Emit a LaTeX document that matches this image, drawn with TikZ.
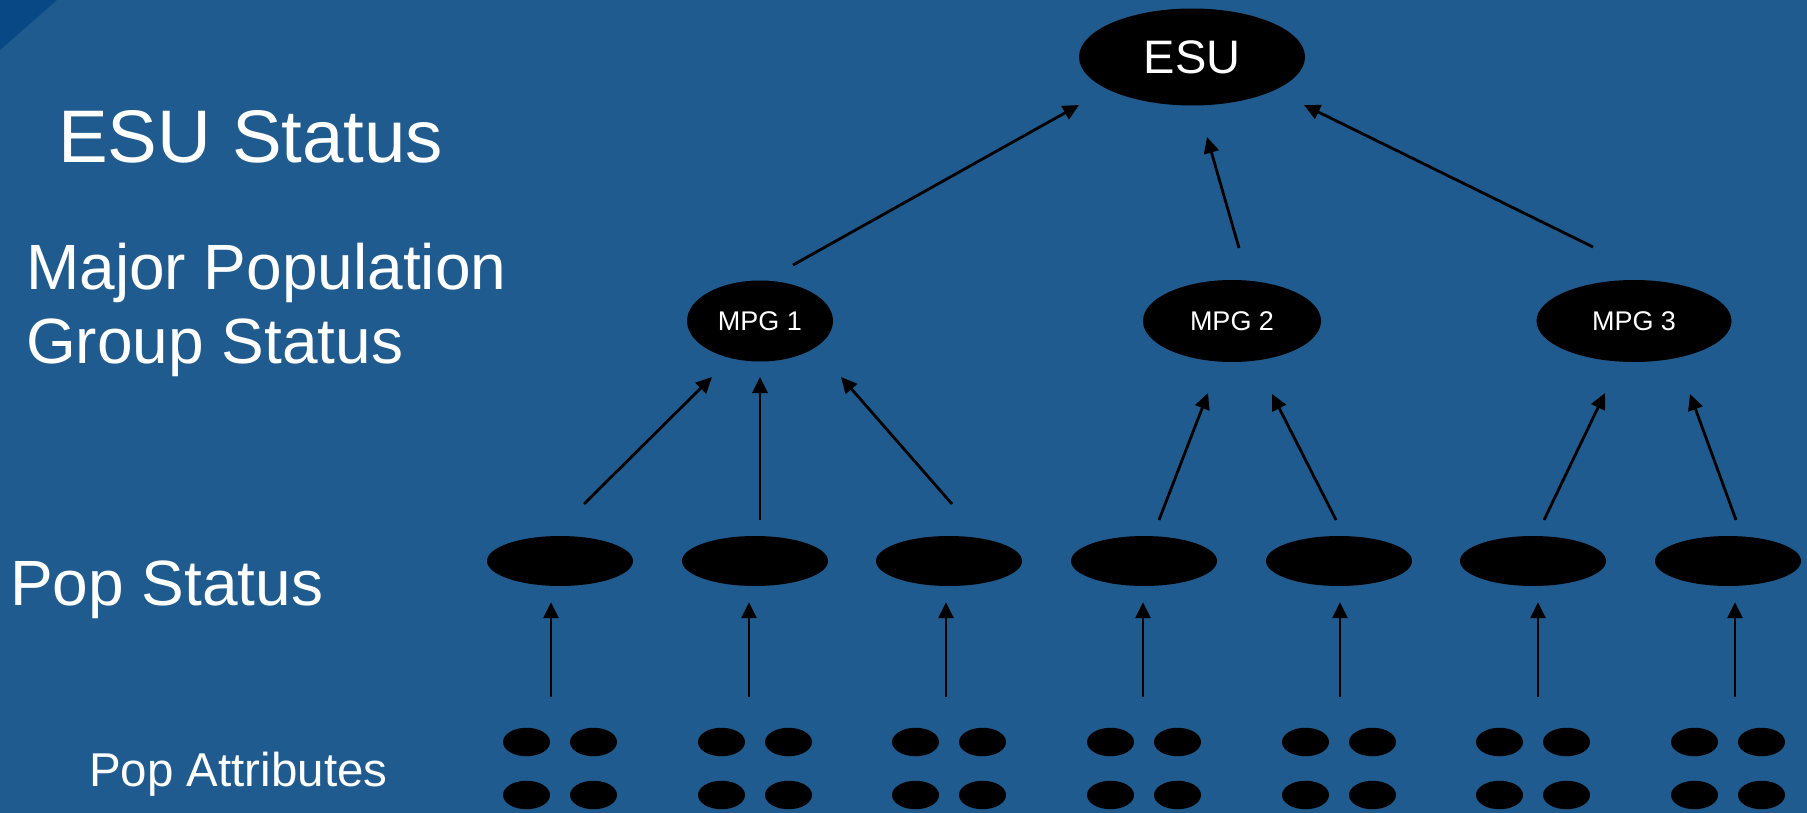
\documentclass[tikz,border=0pt]{standalone}
\usepackage{fontspec}
\setmainfont{Liberation Sans}
\usetikzlibrary{shapes.geometric,arrows.meta}
\definecolor{bgblue}{RGB}{31,91,142}
\definecolor{darkblue}{RGB}{8,72,132}
\tikzset{
  blob/.style={ellipse, fill=black, draw=none, inner sep=0pt, text=white},
  popnode/.style={blob, minimum width=146pt, minimum height=50pt},
  dotnode/.style={blob, minimum width=47pt, minimum height=28.5pt},
  arr/.style={line width=2.8pt, draw=black, -{Triangle[length=16pt,width=15pt]}},
  lbl/.style={text=white, inner sep=0pt, anchor=base west, align=left},
}
\begin{document}
\begin{tikzpicture}[x=1pt,y=-1pt]
\useasboundingbox (0,0) rectangle (1807,813);
\fill[bgblue] (0,0) rectangle (1807,813);
\fill[darkblue] (0,0) -- (57,0) -- (0,50) -- cycle;

% left labels
\node[lbl, font=\fontsize{74.5}{88}\selectfont] (l1) at (58,163) {ESU Status};
\node[lbl, font=\fontsize{64}{74}\selectfont] (l2) at (26,363) {Major Population\\Group Status};
\node[lbl, font=\fontsize{64}{74}\selectfont] (l3) at (10,605) {Pop Status};
\node[lbl, font=\fontsize{47.5}{56}\selectfont] (l4) at (89,786) {Pop Attributes};

% ESU and MPG nodes
\node[blob, minimum width=226pt, minimum height=97pt, font=\fontsize{47}{56}\selectfont] (esu) at (1192,57) {ESU};
\node[blob, minimum width=146pt, minimum height=81pt, font=\fontsize{27}{32}\selectfont] (m1) at (760,321) {MPG 1};
\node[blob, minimum width=178pt, minimum height=82pt, font=\fontsize{27}{32}\selectfont] (m2) at (1232,321) {MPG 2};
\node[blob, minimum width=195pt, minimum height=82pt, font=\fontsize{27}{32}\selectfont] (m3) at (1634,321) {MPG 3};

% pop nodes, attribute dots, arrows
\foreach \i/\x/\ax in {1/560/551, 2/755/749, 3/949/946, 4/1144/1143, 5/1339/1340, 6/1533/1538, 7/1728/1735} {
  \node[popnode] (p\i) at (\x,561) {};
  \node[dotnode] (d\i a) at (\x-33.5,742) {};
  \node[dotnode] (d\i b) at (\x+33.5,742) {};
  \node[dotnode] (d\i c) at (\x-33.5,795) {};
  \node[dotnode] (d\i d) at (\x+33.5,795) {};
  \coordinate (b\i) at (\ax,697);
  \draw[arr, shorten >=16pt] (b\i) -- (b\i |- p\i.south);
}

% pop -> MPG
\draw[arr] ([shift={(24,-57)}]p1.center) -- ([shift={(-48,56)}]m1.center);
\draw[arr] ([shift={(5,-41)}]p2.center) -- ([shift={(0,56)}]m1.center);
\draw[arr] ([shift={(3,-57)}]p3.center) -- ([shift={(81,56)}]m1.center);
\draw[arr] ([shift={(15,-41)}]p4.center) -- ([shift={(-24,72)}]m2.center);
\draw[arr] ([shift={(-3,-41)}]p5.center) -- ([shift={(40,73)}]m2.center);
\draw[arr] ([shift={(11,-41)}]p6.center) -- ([shift={(-29,72)}]m3.center);
\draw[arr] ([shift={(8,-41)}]p7.center) -- ([shift={(56,73)}]m3.center);

% MPG -> ESU
\draw[arr] ([shift={(33,-56)}]m1.center) -- ([shift={(-113,48)}]esu.center);
\draw[arr] ([shift={(7,-73)}]m2.center) -- ([shift={(15,80)}]esu.center);
\draw[arr] ([shift={(-41,-74)}]m3.center) -- ([shift={(112,48)}]esu.center);
\end{tikzpicture}
\end{document}
